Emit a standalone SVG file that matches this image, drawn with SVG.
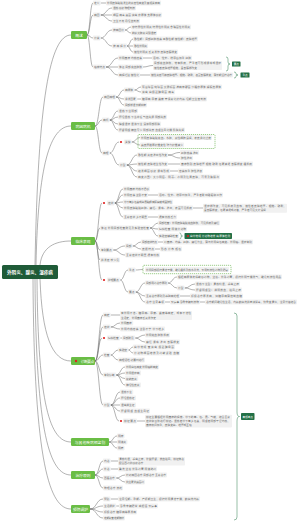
<svg xmlns="http://www.w3.org/2000/svg" width="300" height="522" viewBox="0 0 300 522">
<style>
text{font-family:"Noto Sans CJK SC","Noto Sans",sans-serif;dominant-baseline:central}
.m rect{fill:#6abd45}
.m text{fill:#fff;font-size:3.8px;text-anchor:middle}
.b{fill:#f1f1f1}
.t{font-size:2.7px;fill:#6a6a6a}
.c path{fill:none;stroke:#666;stroke-width:0.5}
.s{fill:none;stroke:#2e7d4f;stroke-width:0.5}
.g{fill:#237046}
.gt{fill:#fff;font-size:2.6px;text-anchor:middle}
.d{fill:none;stroke:#5aab3c;stroke-width:0.6;stroke-dasharray:1.2 0.8}
.r{fill:#e02020}
</style>
<g id="connectors" class="c">
<path d="M35 265 C38 100 50 35 71 35"/>
<path d="M36 265 C38 165 50 126 71 126"/>
<path d="M40 265 C42 247 55 241 71 241"/>
<path d="M40 279 C42 335 52 361 71 361"/>
<path d="M37 279 C38 405 50 442 71 442"/>
<path d="M35 279 C36 435 50 475 71 475"/>
<path d="M33 279 C34 465 50 509 71 509"/>
<path d="M87 35 C90 35 90 3 93 3"/>
<path d="M87 35 C90 35 90 15 93 15"/>
<path d="M87 35 C90 35 90 38 93 38"/>
<path d="M87 35 C90 35 90 67 93 67"/>
<path d="M100.6 3 H106"/>
<path d="M100.6 15 C106.3 15 106.3 8 112 8"/>
<path d="M100.6 15 H112"/>
<path d="M100.6 15 C106.3 15 106.3 21 112 21"/>
<path d="M100.6 38 C106.3 38 106.3 30 112 30"/>
<path d="M100.6 38 C106.3 38 106.3 46 112 46"/>
<path d="M125 30 C128 30 128 27 131 27"/>
<path d="M125 30 C128 30 128 33 131 33"/>
<path d="M127 46 C130 46 130 39 133 39"/>
<path d="M127 46 H133"/>
<path d="M127 46 C130 46 130 52 133 52"/>
<path d="M106 67 C112 67 112 58 118 58"/>
<path d="M106 67 H118"/>
<path d="M106 67 C112 67 112 75 118 75"/>
<path d="M143 58 H152"/>
<path d="M143 67 C148 67 148 65.5 153 65.5"/>
<path d="M140 75 H150"/>
<path d="M95 126 C99 126 99 97 103 97"/>
<path d="M95 126 C98.5 126 98.5 120 102 120"/>
<path d="M95 126 C98.5 126 98.5 153 102 153"/>
<path d="M116 97 C120 97 120 90 124 90"/>
<path d="M116 97 C120 97 120 99 124 99"/>
<path d="M116 97 C120 97 120 105 124 105"/>
<path d="M134.4 90 C137.7 90 137.7 87 141 87"/>
<path d="M134.4 90 C137.7 90 137.7 92 141 92"/>
<path d="M137.2 99 H141"/>
<path d="M109.6 120 C113.8 120 113.8 111 118 111"/>
<path d="M109.6 120 C113.8 120 113.8 117 118 117"/>
<path d="M109.6 120 C113.8 120 113.8 124 118 124"/>
<path d="M109.6 120 C113.8 120 113.8 130 118 130"/>
<path d="M109.6 153 C114.3 153 114.3 142 119 142"/>
<path d="M109.6 153 C114.3 153 114.3 165 119 165"/>
<path d="M131.6 142 C135.8 142 135.8 137.5 140 137.5"/>
<path d="M131.6 142 C135.8 142 135.8 145 140 145"/>
<path d="M126.6 165 C131.8 165 131.8 155 137 155"/>
<path d="M126.6 165 C131.8 165 131.8 164 137 164"/>
<path d="M126.6 165 C131.8 165 131.8 171 137 171"/>
<path d="M126.6 165 C131.8 165 131.8 177 137 177"/>
<path d="M168 155 C174 155 174 152.5 180 152.5"/>
<path d="M168 155 C174 155 174 158 180 158"/>
<path d="M168 164 H180"/>
<path d="M170 171 H178"/>
<path d="M95 241 C98.5 241 98.5 203 102 203"/>
<path d="M95 241 C97.5 241 97.5 228 100 228"/>
<path d="M95 241 C97.5 241 97.5 250 100 250"/>
<path d="M95 241 C97.5 241 97.5 260 100 260"/>
<path d="M95 241 C98.5 241 98.5 280 102 280"/>
<path d="M114.6 203 C118.8 203 118.8 189 123 189"/>
<path d="M114.6 203 C118.8 203 118.8 195 123 195"/>
<path d="M114.6 203 C118.8 203 118.8 202 123 202"/>
<path d="M114.6 203 C118.8 203 118.8 208 123 208"/>
<path d="M114.6 203 C118.8 203 118.8 217 123 217"/>
<path d="M148 195 H158"/>
<path d="M193 208 H203"/>
<path d="M148 217 H158"/>
<path d="M150 228 C154 228 154 223 158 223"/>
<path d="M150 228 C154 228 154 229 158 229"/>
<path d="M150 228 C154 228 154 236 158 236"/>
<path d="M113.2 250 C119 250 119 246 125 246"/>
<path d="M113.2 250 C119 250 119 255 125 255"/>
<path d="M132.6 246 C136.8 246 136.8 242 141 242"/>
<path d="M132.6 246 C136.8 246 136.8 249 141 249"/>
<path d="M158 242 H163"/>
<path d="M155 249 H160"/>
<path d="M120.2 280 C124.1 280 124.1 270 128 270"/>
<path d="M120.2 280 C124.1 280 124.1 292 128 292"/>
<path d="M135.6 270 C139.3 270 139.3 269.5 143 269.5"/>
<path d="M135.6 292 C140.3 292 140.3 283 145 283"/>
<path d="M135.6 292 C140.3 292 140.3 296 145 296"/>
<path d="M135.6 292 C140.3 292 140.3 302 145 302"/>
<path d="M168 283 C172.5 283 172.5 277 177 277"/>
<path d="M168 283 C172.5 283 172.5 288 177 288"/>
<path d="M184.6 288 C189.8 288 189.8 284 195 284"/>
<path d="M184.6 288 C189.8 288 189.8 290 195 290"/>
<path d="M180 296 H190"/>
<path d="M165 302 H170"/>
<path d="M200 302 H205"/>
<path d="M95 361 C99 361 99 315 103 315"/>
<path d="M95 361 C99 361 99 327 103 327"/>
<path d="M95 361 C98.5 361 98.5 338 102 338"/>
<path d="M95 361 C99 361 99 355 103 355"/>
<path d="M95 361 C99 361 99 375 103 375"/>
<path d="M95 361 C99 361 99 405 103 405"/>
<path d="M110.6 315 H120"/>
<path d="M110.6 327 C115.3 327 115.3 323 120 323"/>
<path d="M110.6 327 C115.3 327 115.3 329 120 329"/>
<path d="M120.2 338 H122"/>
<path d="M135.2 338 C140.1 338 140.1 335 145 335"/>
<path d="M135.2 338 C140.1 338 140.1 342 145 342"/>
<path d="M110.6 355 C114.3 355 114.3 350 118 350"/>
<path d="M110.6 355 C114.3 355 114.3 360 118 360"/>
<path d="M128.4 350 C130.7 350 130.7 347 133 347"/>
<path d="M128.4 350 C130.7 350 130.7 353 133 353"/>
<path d="M116.2 375 C120.6 375 120.6 367 125 367"/>
<path d="M116.2 375 C120.6 375 120.6 373 125 373"/>
<path d="M116.2 375 C120.6 375 120.6 378.5 125 378.5"/>
<path d="M116.2 375 C120.6 375 120.6 385 125 385"/>
<path d="M110.6 405 C115.3 405 115.3 392 120 392"/>
<path d="M110.6 405 C115.3 405 115.3 398 120 398"/>
<path d="M110.6 405 H120"/>
<path d="M110.6 405 C115.3 405 115.3 411 120 411"/>
<path d="M110.6 405 C115 405 115 421 119 421"/>
<path d="M137 421 H145"/>
<path d="M109 442 C113 442 113 436 117 436"/>
<path d="M109 442 H117"/>
<path d="M109 442 C113 442 113 448 117 448"/>
<path d="M95 475 C99 475 99 461 103 461"/>
<path d="M95 475 C99 475 99 469 103 469"/>
<path d="M95 475 C99 475 99 478 103 478"/>
<path d="M95 475 C99 475 99 488 103 488"/>
<path d="M110.6 461 H118"/>
<path d="M110.6 469 H118"/>
<path d="M116.2 478 C120.6 478 120.6 475 125 475"/>
<path d="M116.2 478 C120.6 478 120.6 482 125 482"/>
<path d="M90 509 C96.5 509 96.5 499 103 499"/>
<path d="M90 509 C96.5 509 96.5 506 103 506"/>
<path d="M90 509 C96.5 509 96.5 512 103 512"/>
<path d="M90 509 C96.5 509 96.5 518 103 518"/>
<path d="M110.6 499 H118"/>
<path d="M116.2 506 H119"/>
</g>
<g id="summaries">
<path class="s" d="M226 57 Q228 57 228 59 V62 Q228 64 230 64 Q228 64 228 66 V69 Q228 71 226 71"/>
<rect class="g" x="232" y="61.5" width="8.5" height="5" rx="0.6"/><text class="gt" x="236.25" y="64">要点</text>
<path class="s" d="M234 72 Q236 72 236 73.5 V74 Q236 75 238 75 Q236 75 236 76 V76.5 Q236 78 234 78"/>
<rect class="g" x="240.5" y="72.5" width="9" height="5" rx="0.6"/><text class="gt" x="245" y="75">重点</text>
<path class="s" d="M179.5 233 Q181 233 181 234.5 V235 Q181 236 182.5 236 Q181 236 181 237 V237.5 Q181 239 179.5 239"/>
<path class="s" d="M234 313 Q237 313 237 316 V412 Q237 416.5 239.5 416.5 Q237 416.5 237 421 V517 Q237 520 234 520"/>
<rect class="g" x="241" y="413" width="13.5" height="7" rx="0.8"/><text class="gt" x="247.75" y="416.5">高频考点</text>
</g>
<g id="root"><rect x="2" y="265" width="56" height="14" rx="1.5" fill="#1f5b38"/><text x="30" y="272" fill="#fff" font-size="4.6" font-weight="bold" text-anchor="middle">外阴炎、腺炎、湿疹病</text></g>

<g id="n1" class="m"><rect x="71" y="31" width="16" height="8" rx="1.2"/><text x="79" y="35">概述</text></g>
<g id="n1a"><rect class="b" x="93" y="0.6" width="7.6" height="4.8" rx="0.8"/><text class="t" x="94" y="3">定义</text></g>
<g id="n1a1"><rect class="b" x="106" y="0.6" width="55" height="4.8" rx="0.8"/><text class="t" x="107" y="3" textLength="53" lengthAdjust="spacingAndGlyphs">外阴皮肤黏膜发生的炎症性病变及其相关疾病</text></g>
<g id="n1b"><rect class="b" x="93" y="12.6" width="7.6" height="4.8" rx="0.8"/><text class="t" x="94" y="15">病因</text></g>
<g id="n1b1"><rect class="b" x="112" y="5.6" width="24" height="4.8" rx="0.8"/><text class="t" x="113" y="8" textLength="22">湿热 感染 物理刺激</text></g>
<g id="n1b2"><rect class="b" x="112" y="12.6" width="50" height="4.8" rx="0.8"/><text class="t" x="113" y="15" textLength="48">细菌 病毒 真菌 滴虫 衣原体 支原体感染</text></g>
<g id="n1b3"><rect class="b" x="112" y="18.6" width="28" height="4.8" rx="0.8"/><text class="t" x="113" y="21" textLength="26">卫生不良 月经血刺激</text></g>
<g id="n1c"><rect class="b" x="93" y="35.6" width="7.6" height="4.8" rx="0.8"/><text class="t" x="94" y="38">分类</text></g>
<g id="n1c1"><rect class="b" x="112" y="27.6" width="13" height="4.8" rx="0.8"/><text class="t" x="113" y="30" textLength="11">按病因分</text></g>
<g id="n1c1a"><rect class="b" x="131" y="24.6" width="60" height="4.8" rx="0.8"/><text class="t" x="132" y="27" textLength="58">非特异性外阴炎 特异性外阴炎 念珠菌性外阴炎</text></g>
<g id="n1c1b"><rect class="b" x="131" y="30.6" width="26" height="4.8" rx="0.8"/><text class="t" x="132" y="33" textLength="24">前庭大腺炎 尖锐湿疣</text></g>
<g id="n1c2"><rect class="b" x="112" y="43.6" width="15" height="4.8" rx="0.8"/><text class="t" x="113" y="46" textLength="13">按病程分</text></g>
<g id="n1c2a"><rect class="b" x="133" y="36.6" width="65" height="4.8" rx="0.8"/><text class="t" x="134" y="39" textLength="63">急性期：局部红肿热痛 亚急性期 慢性期：皮肤增厚</text></g>
<g id="n1c2b"><rect class="b" x="133" y="43.6" width="15" height="4.8" rx="0.8"/><text class="t" x="134" y="46" textLength="13">急性外阴炎</text></g>
<g id="n1c2c"><rect class="b" x="133" y="49.6" width="45" height="4.8" rx="0.8"/><text class="t" x="134" y="52" textLength="43">慢性外阴炎 反复发作 皮肤苔藓样变</text></g>
<g id="n1d"><rect class="b" x="93" y="64.6" width="13" height="4.8" rx="0.8"/><text class="t" x="94" y="67" textLength="11">临床特点</text></g>
<g id="n1d1"><rect class="b" x="118" y="55.6" width="25" height="4.8" rx="0.8"/><text class="t" x="119" y="58" textLength="23">外阴瘙痒 灼热疼痛</text></g>
<g id="n1d1a"><rect class="b" x="152" y="55.6" width="40" height="4.8" rx="0.8"/><text class="t" x="153" y="58" textLength="38">活动、性交、排尿后加重 红肿</text></g>
<g id="n1d2"><rect class="b" x="118" y="64.6" width="25" height="4.8" rx="0.8"/><text class="t" x="119" y="67" textLength="23">体征 局部充血肿胀</text></g>
<g id="n1d2a"><rect class="b" x="153" y="61" width="69" height="9" rx="0.8"/><text class="t" x="154" y="63.4" textLength="67">局部充血肿胀，常有抓痕，严重者可形成溃疡或湿疹</text><text class="t" x="154" y="67.6">慢性者皮肤增厚粗糙，呈苔藓样改变</text></g>
<g id="n1d3"><rect class="b" x="118" y="72.6" width="22" height="4.8" rx="0.8"/><text class="t" x="119" y="75" textLength="20">病程迁延 慢性化</text></g>
<g id="n1d3a"><rect class="b" x="150" y="72.6" width="83" height="4.8" rx="0.8"/><text class="t" x="151" y="75" textLength="81">慢性炎症可使皮肤增厚、粗糙、皲裂，甚至苔藓样变，需长期坚持治疗</text></g>

<g id="n2" class="m"><rect x="71" y="122" width="24" height="8" rx="1.2"/><text x="83" y="126">病因病机</text></g>
<g id="n2a"><rect class="b" x="103" y="94.6" width="13" height="4.8" rx="0.8"/><text class="t" x="104" y="97" textLength="11">病因病理</text></g>
<g id="n2a1"><rect class="b" x="124" y="87.6" width="10.4" height="4.8" rx="0.8"/><text class="t" x="125" y="90">病原体</text></g>
<g id="n2a1a"><rect class="b" x="141" y="84.6" width="81" height="4.8" rx="0.8"/><text class="t" x="142" y="87" textLength="79">葡萄球菌 链球菌 大肠杆菌 淋病奈瑟菌 沙眼衣原体 解脲支原体</text></g>
<g id="n2a1b"><rect class="b" x="141" y="89.6" width="34" height="4.8" rx="0.8"/><text class="t" x="142" y="92" textLength="32">滴虫 白假丝酵母菌 病毒</text></g>
<g id="n2a2"><rect class="b" x="124" y="96.6" width="13.2" height="4.8" rx="0.8"/><text class="t" x="125" y="99">诱发因素</text></g>
<g id="n2a2a"><rect class="b" x="141" y="96.6" width="66" height="4.8" rx="0.8"/><text class="t" x="142" y="99" textLength="64">糖尿病 尿瘘 粪瘘 穿紧身化纤内裤 经期卫生垫刺激</text></g>
<g id="n2a3"><rect class="b" x="124" y="102.6" width="23" height="4.8" rx="0.8"/><text class="t" x="125" y="105" textLength="21">局部潮湿 长期摩擦</text></g>
<g id="n2b"><rect class="b" x="102" y="117.6" width="7.6" height="4.8" rx="0.8"/><text class="t" x="103" y="120">病机</text></g>
<g id="n2b1"><rect class="b" x="118" y="108.6" width="20" height="4.8" rx="0.8"/><text class="t" x="119" y="111" textLength="18">湿热下注阴部</text></g>
<g id="n2b2"><rect class="b" x="118" y="114.6" width="49" height="4.8" rx="0.8"/><text class="t" x="119" y="117" textLength="47">肝经湿热 下注冲任 气血失调 阴部失养</text></g>
<g id="n2b3"><rect class="b" x="118" y="121.6" width="43" height="4.8" rx="0.8"/><text class="t" x="119" y="124" textLength="41">脾虚湿盛 湿浊下注 浸渍阴部肌肤</text></g>
<g id="n2b4"><rect class="b" x="118" y="127.6" width="67" height="4.8" rx="0.8"/><text class="t" x="119" y="130" textLength="65">肝肾阴虚 精血亏少 阴部失荣 血虚生风化燥 肌肤失润</text></g>
<g id="n2c"><rect class="b" x="102" y="150.6" width="7.6" height="4.8" rx="0.8"/><text class="t" x="103" y="153">病理</text></g>
<g id="n2c1"><circle class="r" cx="121" cy="142" r="1.1"/><rect class="b" x="124" y="139.6" width="7.6" height="4.8" rx="0.8"/><text class="t" x="125" y="142">关键</text></g>
<g id="n2c1box"><rect class="d" x="138" y="134.5" width="77" height="14" rx="1"/></g>
<g id="n2c1a"><rect class="b" x="140" y="135.1" width="72" height="4.8" rx="0.8"/><text class="t" x="141" y="137.5" textLength="70">外阴皮肤黏膜充血、水肿，炎性细胞浸润，表皮角化过度</text></g>
<g id="n2c1b"><rect class="b" x="140" y="142.6" width="44" height="4.8" rx="0.8"/><text class="t" x="141" y="145" textLength="42">真皮层胶原纤维变性 弹力纤维减少</text></g>
<g id="n2c2"><rect class="b" x="119" y="162.6" width="7.6" height="4.8" rx="0.8"/><text class="t" x="120" y="165">分型</text></g>
<g id="n2c2a"><rect class="b" x="137" y="152.6" width="31" height="4.8" rx="0.8"/><text class="t" x="138" y="155" textLength="29">急性期 炎症渗出性改变</text></g>
<g id="n2c2a1"><rect class="b" x="180" y="150.1" width="19" height="4.8" rx="0.8"/><text class="t" x="181" y="152.5" textLength="17">红肿 热痛 渗出</text></g>
<g id="n2c2a2"><rect class="b" x="180" y="155.6" width="13" height="4.8" rx="0.8"/><text class="t" x="181" y="158" textLength="11">脓性渗出</text></g>
<g id="n2c2b"><rect class="b" x="137" y="161.6" width="31" height="4.8" rx="0.8"/><text class="t" x="138" y="164" textLength="29">慢性期 皮肤增生性改变</text></g>
<g id="n2c2b1"><rect class="b" x="180" y="161.6" width="73" height="4.8" rx="0.8"/><text class="t" x="181" y="164" textLength="71">瘙痒剧烈 皮肤增厚 粗糙 皲裂 色素减退 苔藓样变 搔抓痕</text></g>
<g id="n2c2c"><rect class="b" x="137" y="168.6" width="33" height="4.8" rx="0.8"/><text class="t" x="138" y="171" textLength="31">继发细菌感染 溃疡形成</text></g>
<g id="n2c2c1"><rect class="b" x="178" y="168.6" width="25" height="4.8" rx="0.8"/><text class="t" x="179" y="171" textLength="23">疼痛加重 脓性渗液</text></g>
<g id="n2c2d"><rect class="b" x="137" y="174.6" width="83" height="4.8" rx="0.8"/><text class="t" x="138" y="177" textLength="81">病变范围：大小阴唇、阴蒂、会阴及肛周皮肤，可累及腹股沟</text></g>

<g id="n3" class="m"><rect x="71" y="237" width="24" height="8" rx="1.2"/><text x="83" y="241">临床表现</text></g>
<g id="n3a"><circle class="r" cx="104" cy="203" r="1.1"/><rect class="b" x="107" y="200.6" width="7.6" height="4.8" rx="0.8"/><text class="t" x="108" y="203">症状</text></g>
<g id="n3a1"><rect class="b" x="123" y="186.6" width="27" height="4.8" rx="0.8"/><text class="t" x="124" y="189" textLength="25">外阴瘙痒 灼热不适感</text></g>
<g id="n3a2"><rect class="b" x="123" y="192.6" width="25" height="4.8" rx="0.8"/><text class="t" x="124" y="195" textLength="23">外阴疼痛 坐卧不安</text></g>
<g id="n3a2a"><rect class="b" x="158" y="192.6" width="65" height="4.8" rx="0.8"/><text class="t" x="159" y="195" textLength="63">活动、性交、排尿时加重，严重者影响睡眠和工作</text></g>
<g id="n3a3"><rect class="b" x="123" y="199.6" width="50" height="4.8" rx="0.8"/><text class="t" x="124" y="202" textLength="48">带下量多 色黄或白 质黏稠 有腥臭味 或呈脓性</text></g>
<g id="n3a4"><rect class="b" x="123" y="205.6" width="70" height="4.8" rx="0.8"/><text class="t" x="124" y="208" textLength="68">外阴皮肤黏膜红肿、糜烂、溃疡、渗出，表面可见抓痕</text></g>
<g id="n3a4a"><rect class="b" x="203" y="203.8" width="84" height="9" rx="0.8"/><text class="t" x="204" y="206.2" textLength="82">湿疹样改变，可见抓痕及血痂，慢性者皮肤增厚、粗糙、皲裂，</text><text class="t" x="204" y="210.4">呈苔藓样变，色素减退或沉着，严重者可见大片浸润</text></g>
<g id="n3a5"><rect class="b" x="123" y="214.6" width="25" height="4.8" rx="0.8"/><text class="t" x="124" y="217" textLength="23">全身症状 多不明显</text></g>
<g id="n3a5a"><rect class="b" x="158" y="214.6" width="19" height="4.8" rx="0.8"/><text class="t" x="159" y="217" textLength="17">偶有低热乏力</text></g>
<g id="n3b"><rect class="b" x="100" y="225.6" width="50" height="4.8" rx="0.8"/><text class="t" x="101" y="228" textLength="48">体征 外阴局部检查所见及实验室检查</text></g>
<g id="n3b1"><rect class="b" x="158" y="220.6" width="62" height="4.8" rx="0.8"/><text class="t" x="159" y="223" textLength="60">局部检查：外阴皮肤黏膜充血肿胀，可见抓痕及糜烂</text></g>
<g id="n3b2"><rect class="b" x="158" y="226.6" width="29" height="4.8" rx="0.8"/><text class="t" x="159" y="229" textLength="27">妇科检查 阴道分泌物</text></g>
<g id="n3b3"><rect class="b" x="158" y="233.6" width="21" height="4.8" rx="0.8"/><text class="t" x="159" y="236" textLength="19">实验室辅助检查</text></g>
<g id="n3b3tag"><rect class="g" x="184.5" y="233" width="47.5" height="6" rx="0.8"/><circle class="r" cx="188" cy="236" r="1.1"/><text x="190" y="236" fill="#fff" font-size="2.6" textLength="40">白带常规 分泌物培养 病原体检测</text></g>
<g id="n3c"><rect class="b" x="100" y="247.6" width="13.2" height="4.8" rx="0.8"/><text class="t" x="101" y="250">鉴别要点</text></g>
<g id="n3c1"><rect class="b" x="125" y="243.6" width="7.6" height="4.8" rx="0.8"/><text class="t" x="126" y="246">局部</text></g>
<g id="n3c1a"><rect class="b" x="141" y="239.6" width="17" height="4.8" rx="0.8"/><text class="t" x="142" y="242" textLength="15">局部症状特点</text></g>
<g id="n3c1a1"><rect class="b" x="163" y="239.6" width="90" height="4.8" rx="0.8"/><text class="t" x="164" y="242" textLength="88">以瘙痒、灼痛、红肿、糜烂为主，需与外阴白色病变、外阴癌、湿疹鉴别</text></g>
<g id="n3c1b"><rect class="b" x="141" y="246.6" width="14" height="4.8" rx="0.8"/><text class="t" x="142" y="249" textLength="12">皮损特点</text></g>
<g id="n3c1b1"><rect class="b" x="160" y="246.6" width="22" height="4.8" rx="0.8"/><text class="t" x="161" y="249" textLength="20">形态 分布 颜色</text></g>
<g id="n3c2"><rect class="b" x="125" y="252.6" width="35" height="4.8" rx="0.8"/><text class="t" x="126" y="255" textLength="33">全身症状不明显 偶有低热</text></g>
<g id="n3d"><rect class="b" x="100" y="257.6" width="20" height="4.8" rx="0.8"/><text class="t" x="101" y="260" textLength="18">并发症 较少见</text></g>
<g id="n3e"><circle class="r" cx="104" cy="280" r="1.1"/><rect class="b" x="107" y="277.6" width="13.2" height="4.8" rx="0.8"/><text class="t" x="108" y="280">护理要点</text></g>
<g id="n3e1"><rect class="b" x="128" y="267.6" width="7.6" height="4.8" rx="0.8"/><text class="t" x="129" y="270">重点</text></g>
<g id="n3e1a"><rect class="d" x="143" y="265.3" width="88" height="8.4" rx="1"/><rect class="b" x="145" y="267.1" width="84" height="4.8" rx="0.8"/><text class="t" x="146" y="269.5" textLength="82">外阴局部保持清洁干燥，避免搔抓及热水烫洗，禁用刺激性药物及肥皂</text></g>
<g id="n3e2"><rect class="b" x="128" y="289.6" width="7.6" height="4.8" rx="0.8"/><text class="t" x="129" y="292">要点</text></g>
<g id="n3e2a"><rect class="b" x="145" y="280.6" width="23" height="4.8" rx="0.8"/><text class="t" x="146" y="283" textLength="21">局部用药治疗原则</text></g>
<g id="n3e2a1"><rect class="b" x="177" y="274.6" width="105" height="4.8" rx="0.8"/><text class="t" x="178" y="277" textLength="103">根据病原体选择敏感药物，坐浴、外涂药膏，保持外阴干燥透气，避免刺激性用品</text></g>
<g id="n3e2a2"><rect class="b" x="177" y="285.6" width="7.6" height="4.8" rx="0.8"/><text class="t" x="178" y="288">分型</text></g>
<g id="n3e2a2a"><rect class="b" x="195" y="281.6" width="45" height="4.8" rx="0.8"/><text class="t" x="196" y="284" textLength="43">湿热下注型：清热利湿，杀虫止痒</text></g>
<g id="n3e2a2b"><rect class="b" x="195" y="287.6" width="47" height="4.8" rx="0.8"/><text class="t" x="196" y="290" textLength="45">肝肾阴虚型：滋阴养血，祛风止痒</text></g>
<g id="n3e2b"><rect class="b" x="145" y="293.6" width="35" height="4.8" rx="0.8"/><text class="t" x="146" y="296" textLength="33">全身治疗原则及基础病处理</text></g>
<g id="n3e2b1"><rect class="b" x="190" y="293.6" width="53" height="4.8" rx="0.8"/><text class="t" x="191" y="296" textLength="51">积极治疗原发病，如糖尿病需控制血糖</text></g>
<g id="n3e2c"><rect class="b" x="145" y="299.6" width="20" height="4.8" rx="0.8"/><text class="t" x="146" y="302" textLength="18">治疗注意事项</text></g>
<g id="n3e2c1"><rect class="b" x="170" y="299.6" width="30" height="4.8" rx="0.8"/><text class="t" x="171" y="302" textLength="28">禁房事 忌食辛辣刺激物</text></g>
<g id="n3e2c2"><rect class="b" x="205" y="299.6" width="92" height="4.8" rx="0.8"/><text class="t" x="206" y="302" textLength="90">治疗期间避免性生活，内裤勤换洗并煮沸消毒，饮食宜清淡，注意劳逸结合</text></g>

<g id="n4" class="m"><rect x="71" y="357" width="24" height="8" rx="1.2"/><circle class="r" cx="76" cy="361" r="1.2"/><text x="87.5" y="361" font-size="3.5" textLength="13.5">诊断要点</text></g>
<g id="n4a"><rect class="b" x="103" y="312.6" width="7.6" height="4.8" rx="0.8"/><text class="t" x="104" y="315">病史</text></g>
<g id="n4a1"><rect class="b" x="120" y="311" width="72" height="9" rx="0.8"/><text class="t" x="121" y="313.4" textLength="70">有外阴不洁、糖尿病、尿瘘、粪瘘等病史，或有不洁性</text><text class="t" x="121" y="317.6">生活史，外阴瘙痒反复发作史</text></g>
<g id="n4b"><rect class="b" x="103" y="324.6" width="7.6" height="4.8" rx="0.8"/><text class="t" x="104" y="327">症状</text></g>
<g id="n4b1"><rect class="b" x="120" y="320.6" width="13.2" height="4.8" rx="0.8"/><text class="t" x="121" y="323">外阴瘙痒</text></g>
<g id="n4b2"><rect class="b" x="120" y="326.6" width="45" height="4.8" rx="0.8"/><text class="t" x="121" y="329" textLength="43">外阴灼热疼痛 坐卧不宁 带下增多</text></g>
<g id="n4c"><circle class="r" cx="104" cy="338" r="1.1"/><rect class="b" x="107" y="335.6" width="13.2" height="4.8" rx="0.8"/><text class="t" x="108" y="338">妇科检查</text></g>
<g id="n4c1"><rect class="b" x="122" y="335.6" width="13.2" height="4.8" rx="0.8"/><text class="t" x="123" y="338">局部所见</text></g>
<g id="n4c1a"><rect class="b" x="145" y="332.6" width="25" height="4.8" rx="0.8"/><text class="t" x="146" y="335" textLength="23">外阴充血 肿胀 抓痕</text></g>
<g id="n4c1b"><rect class="b" x="145" y="339.6" width="35" height="4.8" rx="0.8"/><text class="t" x="146" y="342" textLength="33">糜烂 溃疡 渗出 苔藓样变</text></g>
<g id="n4d"><rect class="b" x="103" y="352.6" width="7.6" height="4.8" rx="0.8"/><text class="t" x="104" y="355">检查</text></g>
<g id="n4d1"><rect class="b" x="118" y="347.6" width="10.4" height="4.8" rx="0.8"/><text class="t" x="119" y="350">实验室</text></g>
<g id="n4d1a"><rect class="b" x="133" y="344.6" width="42" height="4.8" rx="0.8"/><text class="t" x="134" y="347" textLength="40">白带常规 查滴虫 假丝酵母菌</text></g>
<g id="n4d1b"><rect class="b" x="133" y="350.6" width="47" height="4.8" rx="0.8"/><text class="t" x="134" y="353" textLength="45">分泌物细菌培养及药敏试验 血糖</text></g>
<g id="n4d2"><rect class="b" x="118" y="357.6" width="27" height="4.8" rx="0.8"/><text class="t" x="119" y="360" textLength="25">病理活检 必要时进行</text></g>
<g id="n4e"><rect class="b" x="103" y="372.6" width="13.2" height="4.8" rx="0.8"/><text class="t" x="104" y="375">鉴别诊断</text></g>
<g id="n4e1"><rect class="b" x="125" y="364.6" width="34" height="4.8" rx="0.8"/><text class="t" x="126" y="367" textLength="32">外阴白色病变 外阴癌前病变</text></g>
<g id="n4e2"><rect class="b" x="125" y="370.6" width="16" height="4.8" rx="0.8"/><text class="t" x="126" y="373">外阴湿疹病</text></g>
<g id="n4e3"><rect class="b" x="125" y="376.1" width="13.2" height="4.8" rx="0.8"/><text class="t" x="126" y="378.5">接触皮炎</text></g>
<g id="n4e4"><rect class="b" x="125" y="382.6" width="16" height="4.8" rx="0.8"/><text class="t" x="126" y="385">神经性皮炎</text></g>
<g id="n4f"><rect class="b" x="103" y="402.6" width="7.6" height="4.8" rx="0.8"/><text class="t" x="104" y="405">分型</text></g>
<g id="n4f1"><rect class="b" x="120" y="389.6" width="13.2" height="4.8" rx="0.8"/><text class="t" x="121" y="392">湿热下注</text></g>
<g id="n4f2"><rect class="b" x="120" y="395.6" width="16" height="4.8" rx="0.8"/><text class="t" x="121" y="398">肝经湿热证</text></g>
<g id="n4f3"><rect class="b" x="120" y="402.6" width="16" height="4.8" rx="0.8"/><text class="t" x="121" y="405">湿虫滋生证</text></g>
<g id="n4f4"><rect class="b" x="120" y="408.6" width="30" height="4.8" rx="0.8"/><text class="t" x="121" y="411" textLength="28">肝肾阴虚 血虚生风证</text></g>
<g id="n4f5"><circle class="r" cx="121" cy="421" r="1.1"/><rect class="b" x="123" y="418.6" width="14" height="4.8" rx="0.8"/><text class="t" x="124" y="421" textLength="12">辨证要点</text></g>
<g id="n4f5a"><rect class="b" x="145" y="414.8" width="87" height="12.6" rx="0.8"/><text class="t" x="146" y="417.2" textLength="84">辨证主要根据外阴瘙痒的程度、带下的量、色、质、气味，结合全身</text><text class="t" x="146" y="421.1" textLength="84">症状和舌脉进行辨证。湿热者带下量多色黄，阴虚者阴部干涩灼热，</text><text class="t" x="146" y="425">瘙痒夜间加重，皮肤变白、增厚或萎缩</text></g>

<g id="n5" class="m"><rect x="71" y="438" width="38" height="8" rx="1.2"/><text x="90" y="442" font-size="3.5">与其他疾病相鉴别</text></g>
<g id="n5a"><rect class="b" x="117" y="433.6" width="7.6" height="4.8" rx="0.8"/><text class="t" x="118" y="436">阴痒</text></g>
<g id="n5b"><rect class="b" x="117" y="439.6" width="10.4" height="4.8" rx="0.8"/><text class="t" x="118" y="442">阴道炎</text></g>
<g id="n5c"><rect class="b" x="117" y="445.6" width="7.6" height="4.8" rx="0.8"/><text class="t" x="118" y="448">阴疮</text></g>

<g id="n6" class="m"><rect x="71" y="471" width="24" height="8" rx="1.2"/><text x="83" y="475">治疗原则</text></g>
<g id="n6a"><rect class="b" x="103" y="458.6" width="7.6" height="4.8" rx="0.8"/><text class="t" x="104" y="461">内治</text></g>
<g id="n6a1"><rect class="b" x="118" y="457" width="67" height="8.6" rx="0.8"/><text class="t" x="119" y="459.3" textLength="65">清热利湿，杀虫止痒，补益肝肾，养血祛风，辨证施治</text><text class="t" x="119" y="463.3">配合西药抗感染治疗</text></g>
<g id="n6b"><rect class="b" x="103" y="466.6" width="7.6" height="4.8" rx="0.8"/><text class="t" x="104" y="469">外治</text></g>
<g id="n6b1"><rect class="b" x="118" y="466.6" width="39" height="4.8" rx="0.8"/><text class="t" x="119" y="469" textLength="37">熏洗 坐浴 外涂药膏 阴道纳药</text></g>
<g id="n6c"><rect class="b" x="103" y="475.6" width="13.2" height="4.8" rx="0.8"/><text class="t" x="104" y="478">西医治疗</text></g>
<g id="n6c1"><rect class="b" x="125" y="472.6" width="42" height="4.8" rx="0.8"/><text class="t" x="126" y="475" textLength="40">针对病因治疗 局部治疗 全身治疗</text></g>
<g id="n6c2"><rect class="b" x="125" y="479.6" width="20" height="4.8" rx="0.8"/><text class="t" x="126" y="482" textLength="18">抗生素 抗真菌药</text></g>
<g id="n6d"><rect class="b" x="103" y="485.6" width="20" height="4.8" rx="0.8"/><text class="t" x="104" y="488" textLength="18">物理治疗 激光</text></g>

<g id="n7" class="m"><rect x="71" y="505" width="19" height="8" rx="1.2"/><text x="80.5" y="509" font-size="3.3">预防调护</text></g>
<g id="n7a"><rect class="b" x="103" y="496.6" width="7.6" height="4.8" rx="0.8"/><text class="t" x="104" y="499">预防</text></g>
<g id="n7a1"><rect class="b" x="118" y="496.6" width="82" height="4.8" rx="0.8"/><text class="t" x="119" y="499" textLength="80">注意经期、孕期、产褥期卫生，保持外阴清洁干燥，勤换洗内裤</text></g>
<g id="n7b"><rect class="b" x="103" y="503.6" width="13.2" height="4.8" rx="0.8"/><text class="t" x="104" y="506">生活调护</text></g>
<g id="n7b1"><rect class="b" x="119" y="503.6" width="39" height="4.8" rx="0.8"/><text class="t" x="120" y="506" textLength="37">忌食辛辣肥甘 戒烟酒 禁房事</text></g>
<g id="n7c"><rect class="b" x="103" y="509.6" width="34" height="4.8" rx="0.8"/><text class="t" x="104" y="512" textLength="32">积极治疗 糖尿病等原发病</text></g>
<g id="n7d"><rect class="b" x="103" y="515.6" width="22" height="4.8" rx="0.8"/><text class="t" x="104" y="518" textLength="20">定期复查 定期随访</text></g>
</svg>
